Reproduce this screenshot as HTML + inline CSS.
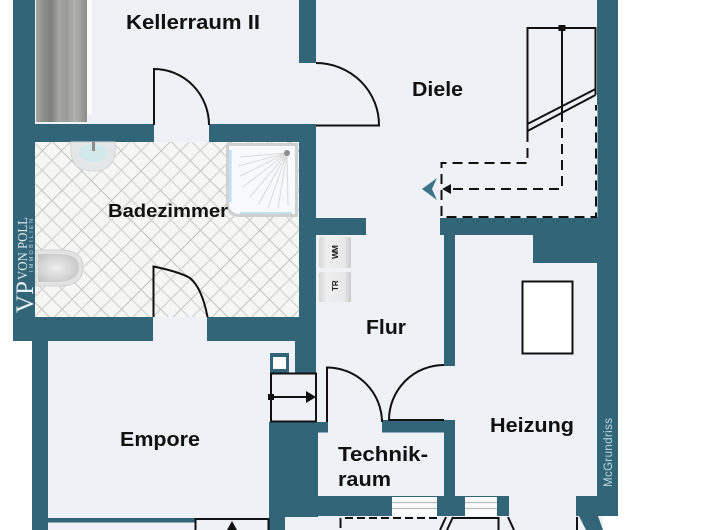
<!DOCTYPE html>
<html lang="de">
<head>
<meta charset="utf-8">
<title>Grundriss</title>
<style>
html,body{margin:0;padding:0;background:#fff;width:720px;height:530px;overflow:hidden}
svg{display:block}
text{font-family:"Liberation Sans",sans-serif}
.l{font-weight:bold;fill:#111;font-size:20px}
</style>
</head>
<body>
<svg width="720" height="530" viewBox="0 0 720 530" xmlns="http://www.w3.org/2000/svg">
<defs>
<pattern id="tile" width="42" height="42" patternUnits="userSpaceOnUse" patternTransform="rotate(45 35 142) translate(4 3)">
<rect width="42" height="42" fill="#f6f6f5"/>
<path d="M14 0V42M28 0V42M0 14H42M0 28H42" stroke="#d4d4d1" stroke-width="1.3" fill="none"/>
<path d="M0 0H42M0 0V42" stroke="#bdbdb9" stroke-width="1.8" fill="none"/>
</pattern>
<linearGradient id="curt" x1="0" x2="1" y1="0" y2="0">
<stop offset="0" stop-color="#a3a39f"/><stop offset=".15" stop-color="#8e8e8b"/>
<stop offset=".3" stop-color="#7f807d"/><stop offset=".45" stop-color="#a5a5a2"/>
<stop offset=".6" stop-color="#9a9a97"/><stop offset=".75" stop-color="#b0b0ad"/>
<stop offset=".9" stop-color="#9c9c99"/><stop offset="1" stop-color="#8b8b88"/>
</linearGradient>
<radialGradient id="toilet" cx=".45" cy=".5" r=".6"><stop offset="0" stop-color="#efefef"/><stop offset="1" stop-color="#c6c6c6"/></radialGradient>
<linearGradient id="key" x1="0" x2="1" y1="0" y2="0"><stop offset="0" stop-color="#d6d6d6"/><stop offset=".25" stop-color="#efefef"/><stop offset=".8" stop-color="#e8e8e8"/><stop offset="1" stop-color="#c9c9c9"/></linearGradient>
</defs>

<!-- floor -->
<rect x="33" y="0" width="572" height="530" fill="#eef1f5"/>
<rect x="603" y="516" width="20" height="14" fill="#fff"/>

<!-- grey element -->
<rect x="36" y="0" width="51" height="122" fill="url(#curt)"/>
<rect x="87" y="0" width="5" height="115" fill="#fbfbfb"/>

<!-- bathroom tiles -->
<rect x="35" y="142" width="264" height="175" fill="url(#tile)"/>

<!-- walls -->
<g fill="#336579">
<rect x="13" y="0" width="22" height="339"/>
<rect x="13" y="124" width="141" height="18"/>
<rect x="209" y="124" width="107" height="18"/>
<rect x="299" y="0" width="17" height="63"/>
<rect x="299" y="125" width="17" height="248"/>
<rect x="597" y="0" width="21" height="516"/>
<rect x="13" y="317" width="140" height="24"/>
<rect x="207" y="317" width="109" height="24"/>
<rect x="32" y="339" width="16" height="191"/>
<rect x="295" y="341" width="21" height="32"/>
<rect x="270" y="353" width="19" height="20"/>
<rect x="269" y="422" width="49" height="95"/>
<rect x="269" y="422" width="16" height="108"/>
<rect x="48" y="518" width="147" height="4.5"/>
<rect x="316" y="218" width="50" height="17"/>
<rect x="440" y="218" width="157" height="17"/>
<rect x="444" y="235" width="11" height="131"/>
<rect x="533" y="235" width="64" height="28"/>
<rect x="382" y="420" width="73" height="12.5"/>
<rect x="316" y="422" width="12" height="10.5"/>
<rect x="444" y="420" width="11" height="76"/>
<rect x="300" y="496" width="209" height="20"/>
<rect x="576" y="496" width="42" height="20"/>
<polygon points="579,516 598,516 603,530 586,530"/>
</g>

<!-- small square & stair box -->
<rect x="273" y="357" width="13" height="12" fill="#fdfdfd"/>
<rect x="271" y="373.5" width="45" height="48" fill="#eef1f5" stroke="#111" stroke-width="2"/>
<rect x="268" y="394" width="6" height="6" fill="#111"/>
<path d="M271 397H308" stroke="#111" stroke-width="2"/>
<polygon points="306,391 316,397 306,403" fill="#111"/>

<!-- windows -->
<g>
<rect x="392" y="497" width="45" height="19" fill="#fbfbfb"/>
<path d="M392 502.5H437M392 508.5H437" stroke="#bdbdbd" stroke-width="1.3"/>
<rect x="465" y="497" width="32" height="19" fill="#fbfbfb"/>
<path d="M465 502.5H497M465 508.5H497" stroke="#bdbdbd" stroke-width="1.3"/>
</g>

<!-- shower -->
<g>
<path d="M226 143H298V217H240Q226 217 226 204Z" fill="#cfd0d1"/>
<path d="M229 146H295V214H241Q229 214 229 203Z" fill="#f8f9fa"/>
<path d="M230 150V202" stroke="#bfe0ec" stroke-width="3"/>
<path d="M240 213H292" stroke="#c3e2ed" stroke-width="2"/>
<g stroke="#dadada" stroke-width="1">
<path d="M287 153L240 157M287 153L238 166M287 153L240 176M287 153L243 187M287 153L250 197M287 153L258 205M287 153L268 208M287 153L278 208M287 153L288 205"/>
</g>
<circle cx="287" cy="153" r="3" fill="#8d8d8d"/>
</g>

<!-- sink -->
<path d="M71 142H115Q118 171 93 171Q68 171 71 142Z" fill="#e4e7e7" stroke="#d5d7d7"/>
<ellipse cx="93" cy="153" rx="14" ry="9" fill="#d2e9ec"/>
<rect x="92" y="142" width="3" height="9" fill="#8a8a8a"/>

<!-- toilet -->
<path d="M36 250H62Q83 251 83 267Q83 285 62 286H36Z" fill="#e3e3e3" stroke="#d2d2d2"/>
<path d="M38 254H60Q79 255 79 267Q79 280 60 282H38Z" fill="url(#toilet)"/>

<!-- WM / TR -->
<rect x="319" y="237" width="32" height="31" rx="2" fill="url(#key)"/>
<rect x="319" y="272" width="32" height="30" rx="2" fill="url(#key)"/>
<text transform="translate(338 259) rotate(-90)" font-size="8.5" font-weight="bold" fill="#222" textLength="14">WM</text>
<text transform="translate(338 291) rotate(-90)" font-size="8" font-weight="bold" fill="#222">TR</text>

<!-- heater rect -->
<rect x="522.5" y="281.5" width="50" height="72" fill="#fff" stroke="#111" stroke-width="2"/>

<!-- doors -->
<g fill="none" stroke="#111" stroke-width="2">
<path d="M154 125V69A55 56 0 0 1 209 125"/>
<path d="M316 63A63 62 0 0 1 379 125.5H316"/>
<path d="M153.5 317V266.5Q180 272 190 278Q202 288 207.5 317"/>
<path d="M327 422V367.5A55 55 0 0 1 382 422"/>
<path d="M444 365A55 55 0 0 0 389 420H444"/>
</g>

<!-- stairs -->
<path d="M596 105V217" stroke="#f2f5f8" stroke-width="3" fill="none"/>
<g fill="none" stroke="#111" stroke-width="2">
<path d="M527.5 132V28H595.5V95"/>
<path d="M562 28V112"/>
<path d="M527.5 124L595.5 89M527.5 131L595.5 95" stroke-width="2"/>
<path d="M527.5 132V163H441.5V217H596V105" stroke-dasharray="10 6"/>
<path d="M562 112V189H448" stroke-dasharray="10 6"/>
</g>
<rect x="558.5" y="25" width="7" height="6" fill="#111"/>
<polygon points="442,189 451,184 451,194" fill="#111"/>
<polygon points="422,189 437,178 432,189 437,200" fill="#3f7488"/>

<!-- bottom lines -->
<g fill="none" stroke="#111" stroke-width="2">
<path d="M345 518H437" stroke-dasharray="8 4"/>
<path d="M340.5 518V528"/>
<path d="M446 517L440 530M453 517L447 530M452 518H498.5V530"/>
<path d="M508 517L514 530M577 517V530"/>
<path d="M195.5 530V519H268.5V530"/>
</g>
<polygon points="232,521 237,530 227,530" fill="#111"/>

<!-- labels -->
<text class="l" x="126" y="29" textLength="134" lengthAdjust="spacingAndGlyphs">Kellerraum II</text>
<text class="l" x="108" y="217" style="font-size:18px" textLength="120" lengthAdjust="spacingAndGlyphs">Badezimmer</text>
<text class="l" x="412" y="96" textLength="51" lengthAdjust="spacingAndGlyphs">Diele</text>
<text class="l" x="366" y="334" textLength="40" lengthAdjust="spacingAndGlyphs">Flur</text>
<text class="l" x="120" y="446" textLength="80" lengthAdjust="spacingAndGlyphs">Empore</text>
<text class="l" x="490" y="432" textLength="84" lengthAdjust="spacingAndGlyphs">Heizung</text>
<text class="l" x="338" y="461" textLength="90" lengthAdjust="spacingAndGlyphs">Technik-</text>
<text class="l" x="338" y="486" textLength="53" lengthAdjust="spacingAndGlyphs">raum</text>

<!-- vertical branding -->
<text transform="translate(612 487) rotate(-90)" font-size="11.5" fill="#bcd9e3" textLength="69">McGrundriss</text>
<text transform="translate(33 313) rotate(-90)" style="font-family:'Liberation Serif',serif" font-size="25" fill="#e6f1f4" textLength="32" lengthAdjust="spacingAndGlyphs">VP</text>
<text transform="translate(27 280) rotate(-90)" style="font-family:'Liberation Serif',serif" font-size="14" fill="#e0edf1" textLength="63" lengthAdjust="spacingAndGlyphs">VON POLL</text>
<text transform="translate(33 272) rotate(-90)" font-size="5.5" fill="#c5dde5" textLength="53">IMMOBILIEN</text>
</svg>
</body>
</html>
